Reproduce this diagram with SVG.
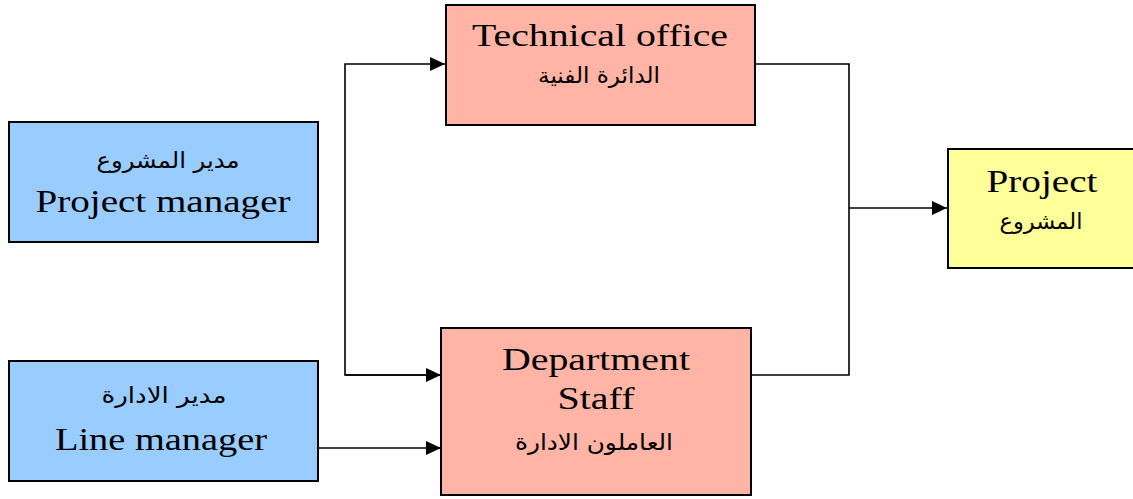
<svg xmlns="http://www.w3.org/2000/svg" width="1133" height="499" viewBox="0 0 1133 499">
<defs>
<marker id="arr" markerUnits="userSpaceOnUse" markerWidth="16" markerHeight="14" refX="15" refY="7" orient="auto">
<path d="M0,0 L15,7 L0,14 z" fill="#000"/>
</marker>
<style>
.box{stroke:#000;stroke-width:2}
.pink{fill:#FFB4A5}
.blue{fill:#99CCFF}
.yellow{fill:#FFFF99}
.en{font-family:'Liberation Serif','Times New Roman',Times,serif;font-size:32px;fill:#000;text-anchor:middle}
.ar{font-family:'DejaVu Sans','Noto Sans',sans-serif;font-size:22px;fill:#000;text-anchor:middle}
.conn{fill:none;stroke:#000;stroke-width:1.6;stroke-linejoin:miter}
</style>
</defs>
<rect width="1133" height="499" fill="#fff"/>
<g id="connectors">
<path class="conn" d="M441,375 L345,375 L345,64 L445,64" marker-end="url(#arr)"/>
<path class="conn" d="M345,375 L441,375" marker-end="url(#arr)"/>
<path class="conn" d="M318,448 L441,448" marker-end="url(#arr)"/>
<path class="conn" d="M755,64 L849,64 L849,375 L751,375"/>
<path class="conn" d="M849,208 L947,208" marker-end="url(#arr)"/>
</g>
<g id="technical-office">
<rect class="box pink" x="446" y="5" width="309" height="120"/>
<text class="en" font-family="Liberation Serif" x="600" y="46" textLength="256" lengthAdjust="spacingAndGlyphs">Technical office</text>
<text class="ar" x="599" y="83" textLength="122" lengthAdjust="spacingAndGlyphs">الدائرة الفنية</text>
</g>
<g id="project-manager">
<rect class="box blue" x="9" y="122" width="309" height="120"/>
<text class="ar" x="168" y="168" textLength="143" lengthAdjust="spacingAndGlyphs">مدير المشروع</text>
<text class="en" font-family="Liberation Serif" x="163" y="212" textLength="255" lengthAdjust="spacingAndGlyphs">Project manager</text>
</g>
<g id="line-manager">
<rect class="box blue" x="9" y="361" width="309" height="120"/>
<text class="ar" x="164" y="403" textLength="125" lengthAdjust="spacingAndGlyphs">مدير الادارة</text>
<text class="en" font-family="Liberation Serif" x="161" y="450" textLength="212" lengthAdjust="spacingAndGlyphs">Line manager</text>
</g>
<g id="department-staff">
<rect class="box pink" x="441" y="328" width="310" height="167"/>
<text class="en" font-family="Liberation Serif" x="596" y="370" textLength="188" lengthAdjust="spacingAndGlyphs">Department</text>
<text class="en" font-family="Liberation Serif" x="596" y="409" textLength="77" lengthAdjust="spacingAndGlyphs">Staff</text>
<text class="ar" x="594" y="450" textLength="158" lengthAdjust="spacingAndGlyphs">العاملون الادارة</text>
</g>
<g id="project">
<rect class="box yellow" x="948" y="149" width="190" height="119"/>
<text class="en" font-family="Liberation Serif" x="1042" y="192" textLength="111" lengthAdjust="spacingAndGlyphs">Project</text>
<text class="ar" x="1041" y="229" textLength="83" lengthAdjust="spacingAndGlyphs">المشروع</text>
</g>
</svg>
